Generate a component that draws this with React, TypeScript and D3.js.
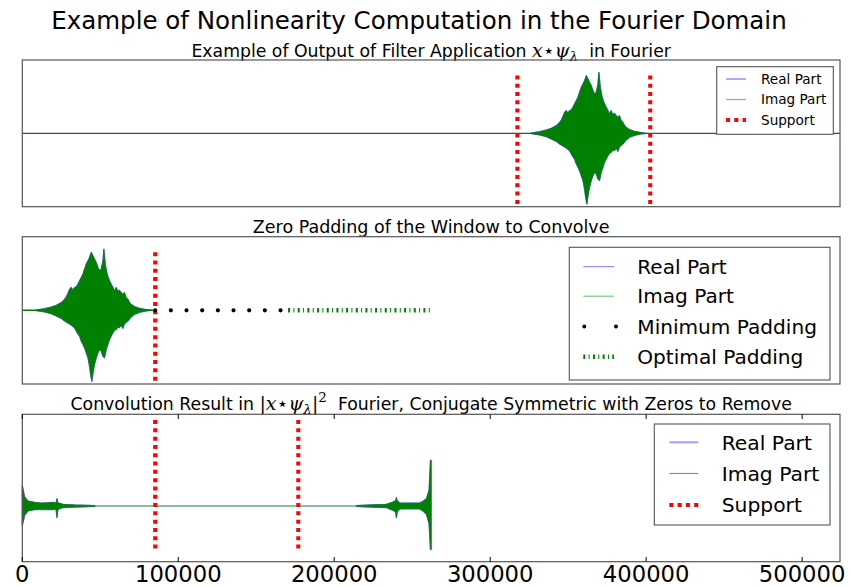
import React from 'react';
import * as d3 from 'd3';

const W = 851;
const H = 586;
const X_MAX = 524288;
const X_TICKS = [0, 100000, 200000, 300000, 400000, 500000];
const SUPPORT = [317400, 402600];
const WINDOW_LEN = 85200;
const HALF_LEN = 262144;
const CONV_SUPPORT = [85200, 176944];

// Envelope of the filtered window, offsets inside the window
const ENV_UP_X = [9000, 14300, 18600, 21800, 25000, 27100, 28200, 29200, 30300, 31400, 32400, 33500, 34600, 35600, 36700, 37800, 38900, 39900, 41000, 42100, 43100, 44200, 45300, 46300, 47400, 48500, 49500, 50600, 51700, 52300, 53200, 54400, 55500, 57000, 58100, 59100, 60200, 61300, 62300, 63400, 64500, 65500, 66600, 67700, 68800, 69800, 72000, 75200, 79400, 82600];
const ENV_UP = [0.005, 0.023, 0.046, 0.069, 0.105, 0.15, 0.182, 0.228, 0.287, 0.31, 0.273, 0.31, 0.319, 0.355, 0.401, 0.446, 0.492, 0.56, 0.628, 0.674, 0.719, 0.787, 0.742, 0.696, 0.651, 0.583, 0.537, 0.56, 0.674, 0.833, 0.628, 0.492, 0.423, 0.355, 0.31, 0.264, 0.31, 0.255, 0.273, 0.241, 0.219, 0.241, 0.173, 0.15, 0.105, 0.082, 0.05, 0.028, 0.01, 0];
const ENV_LO_X = [9000, 14300, 18600, 21800, 25000, 27100, 29200, 31400, 33500, 34600, 35600, 36700, 37800, 38900, 39900, 41000, 42100, 43100, 43800, 44600, 45500, 46300, 47400, 48500, 49500, 50600, 51700, 52700, 53800, 54900, 55900, 57000, 58100, 59100, 60200, 61300, 62300, 63400, 64500, 65500, 67700, 69800, 72000, 75200, 79400, 82600];
const ENV_LO = [-0.004, -0.022, -0.045, -0.077, -0.109, -0.145, -0.172, -0.2, -0.236, -0.281, -0.318, -0.35, -0.418, -0.463, -0.509, -0.577, -0.645, -0.759, -0.873, -0.964, -0.827, -0.736, -0.645, -0.577, -0.532, -0.554, -0.623, -0.645, -0.532, -0.463, -0.395, -0.35, -0.304, -0.272, -0.259, -0.227, -0.236, -0.2, -0.245, -0.181, -0.145, -0.09, -0.054, -0.027, -0.009, 0];

// Convolution result envelope, left and right dense parts
const CONV_L_X = [0, 300, 1500, 3650, 7900, 12200, 16500, 19700, 21200, 21700, 22200, 22700, 23300, 26100, 33600, 46400];
const CONV_L_UP = [0.282, 0.25, 0.122, 0.068, 0.05, 0.041, 0.045, 0.05, 0.041, 0.05, 0.1, 0.05, 0.041, 0.023, 0.014, 0.007];
const CONV_L_LO = [-0.263, -0.24, -0.127, -0.068, -0.049, -0.045, -0.049, -0.049, -0.041, -0.06, -0.158, -0.06, -0.041, -0.022, -0.014, -0.007];
const CONV_R_X = [214200, 222800, 233450, 237700, 239300, 239860, 240400, 242000, 248400, 254800, 256900, 259100, 260800, 261700, 262144];
const CONV_R_UP = [0.007, 0.014, 0.023, 0.055, 0.07, 0.114, 0.07, 0.041, 0.041, 0.041, 0.064, 0.1, 0.214, 0.622, 0.622];
const CONV_R_LO = [-0.007, -0.014, -0.022, -0.059, -0.08, -0.158, -0.08, -0.04, -0.036, -0.04, -0.068, -0.113, -0.24, -0.593, -0.593];

const SUPPORT_SPAN_12 = [-0.975, 0.79];
const SUPPORT_SPAN_3 = [-0.589, 1.17];

const TITLE = 'Example of Nonlinearity Computation in the Fourier Domain';
const LEGEND_1 = ['Real Part', 'Imag Part', 'Support'];
const LEGEND_2 = ['Real Part', 'Imag Part', 'Minimum Padding', 'Optimal Padding'];
const LEGEND_3 = ['Real Part', 'Imag Part', 'Support'];

const FONT = 'DejaVu Sans, sans-serif';
const SERIF = 'DejaVu Serif, serif';
const GREEN = '#008000';
const BLUE = '#0000ff';

const x = d3.scaleLinear().domain([0, X_MAX]).range([22.3, 840]);
const y1 = d3.scaleLinear().domain([-1, 1]).range([206.7, 60]);
const y2 = d3.scaleLinear().domain([-1, 1]).range([384, 236.7]);
const y3 = d3.scaleLinear().domain([-0.758, 1.248]).range([561.7, 414.3]);

function envPath(
  ux: number[], uy: number[], lx: number[], ly: number[],
  off: number, ys: d3.ScaleLinear<number, number>
) {
  const pts: [number, number][] = [];
  ux.forEach((v, i) => pts.push([x(v + off), ys(uy[i])]));
  for (let i = lx.length - 1; i >= 0; i--) pts.push([x(lx[i] + off), ys(ly[i])]);
  const line = d3.line();
  return line(pts) + 'Z';
}

function Signal({ ux, uy, lx, ly, off, ys }: any) {
  const d = envPath(ux, uy, lx, ly, off, ys);
  return (
    <g>
      <path d={d} fill={BLUE} stroke={BLUE} strokeWidth={1.2} strokeLinejoin="round" opacity={0.6} />
      <path d={d} fill={GREEN} stroke={GREEN} strokeWidth={0.5} />
    </g>
  );
}

function Frame({ top, bottom }: { top: number; bottom: number }) {
  return (
    <rect x={x(0)} y={top} width={x(X_MAX) - x(0)} height={bottom - top} fill="none" stroke="#555" strokeWidth={1.2} />
  );
}

function Legend({ box, items, fs, sx, tx, rows }: any) {
  return (
    <g>
      <rect x={box[0]} y={box[1]} width={box[2] - box[0]} height={box[3] - box[1]} fill="#fff" stroke="#555" strokeWidth={1.1} />
      {items.map((it: any, i: number) => (
        <g key={i}>
          {it.kind === 'line' && (
            <line x1={sx[0]} x2={sx[1]} y1={rows[i]} y2={rows[i]} stroke={it.color} strokeWidth={it.w} />
          )}
          {it.kind === 'support' && (
            <line x1={sx[0]} x2={sx[1]} y1={rows[i]} y2={rows[i]} stroke="#ff0000" strokeWidth={4} strokeDasharray="4 4.3" />
          )}
          {it.kind === 'dots' && (
            <line x1={sx[0] + 1} x2={sx[1] + 2} y1={rows[i]} y2={rows[i]} stroke="#000" strokeWidth={4} strokeLinecap="round" strokeDasharray={`0 ${sx[1] - sx[0] + 1}`} />
          )}
          {it.kind === 'dashdot' && (
            <line x1={sx[0]} x2={sx[1]} y1={rows[i]} y2={rows[i]} stroke={GREEN} strokeWidth={4.5} strokeDasharray="2 3.33 1 3.34" />
          )}
          <text x={tx} y={rows[i] + fs * 0.36} fontSize={fs} fontFamily={FONT} fill="#000">{it.label}</text>
        </g>
      ))}
    </g>
  );
}

export default function App() {
  const midX = (x(0) + x(X_MAX)) / 2;
  const mathStyle = { fontFamily: SERIF, fontStyle: 'italic' } as const;
  return (
    <svg width={W} height={H} style={{ position: 'absolute', left: 0, top: 0, background: '#fff' }}>
      <rect x={0} y={0} width={W} height={H} fill="#fff" />
      <text x={419} y={29} textAnchor="middle" fontSize={24.5} fontFamily={FONT} fill="#000">{TITLE}</text>

      {/* Panel 1 */}
      <text x={midX} y={56.5} textAnchor="middle" fontSize={17.3} fontFamily={FONT} fill="#000" style={{ whiteSpace: 'pre' }}>
        {'Example of Output of Filter Application '}
        <tspan style={mathStyle} fontSize={19}>x</tspan>
        <tspan fontSize={19}>{'\u22C6'}</tspan>
        <tspan style={mathStyle} fontSize={19}>ψ</tspan>
        <tspan style={mathStyle} fontSize={13.5} dy={4}>λ</tspan>
        <tspan dy={-4}>{'  in Fourier'}</tspan>
      </text>
      <line x1={x(0)} x2={x(X_MAX)} y1={y1(0)} y2={y1(0)} stroke="#1f5f3f" strokeWidth={1.3} />
      <Signal ux={ENV_UP_X} uy={ENV_UP} lx={ENV_LO_X} ly={ENV_LO} off={SUPPORT[0]} ys={y1} />
      {SUPPORT.map((s, i) => (
        <line key={i} x1={x(s)} x2={x(s)} y1={y1(SUPPORT_SPAN_12[1])} y2={y1(SUPPORT_SPAN_12[0])} stroke="#ff0000" strokeWidth={4} strokeDasharray="4 4.3" />
      ))}
      <Frame top={60} bottom={206.7} />
      <Legend
        box={[716.7, 66.7, 833.3, 134.3]}
        fs={13.6}
        sx={[726, 746]}
        tx={761}
        rows={[79, 99.5, 120]}
        items={[
          { kind: 'line', label: LEGEND_1[0], color: '#5a5aff', w: 1 },
          { kind: 'line', label: LEGEND_1[1], color: '#7cc07c', w: 1.2 },
          { kind: 'support', label: LEGEND_1[2] },
        ]}
      />

      {/* Panel 2 */}
      <text x={midX} y={233.3} textAnchor="middle" fontSize={17.5} fontFamily={FONT} fill="#000">Zero Padding of the Window to Convolve</text>
      <line x1={x(0)} x2={x(WINDOW_LEN)} y1={y2(0)} y2={y2(0)} stroke={GREEN} strokeWidth={1.5} />
      <Signal ux={ENV_UP_X} uy={ENV_UP} lx={ENV_LO_X} ly={ENV_LO} off={0} ys={y2} />
      <line x1={x(WINDOW_LEN)} x2={x(WINDOW_LEN)} y1={y2(SUPPORT_SPAN_12[1])} y2={y2(SUPPORT_SPAN_12[0])} stroke="#ff0000" strokeWidth={4} strokeDasharray="4 4.3" />
      <line x1={x(WINDOW_LEN)} x2={x(2 * WINDOW_LEN)} y1={y2(0)} y2={y2(0)} stroke="#000" strokeWidth={4.2} strokeLinecap="round" strokeDasharray="0 15.67" />
      <line x1={x(2 * WINDOW_LEN)} x2={x(HALF_LEN)} y1={y2(0)} y2={y2(0)} stroke={GREEN} strokeWidth={4.5} strokeDasharray="2 3.33 1 3.34" />
      <Frame top={236.7} bottom={384} />
      <Legend
        box={[569.3, 247.3, 830, 380]}
        fs={20.1}
        sx={[583.3, 614]}
        tx={637.3}
        rows={[266.7, 296.2, 326.4, 356.7]}
        items={[
          { kind: 'line', label: LEGEND_2[0], color: '#7878f0', w: 1 },
          { kind: 'line', label: LEGEND_2[1], color: '#78c878', w: 1.2 },
          { kind: 'dots', label: LEGEND_2[2] },
          { kind: 'dashdot', label: LEGEND_2[3] },
        ]}
      />

      {/* Panel 3 */}
      <text x={midX} y={410} textAnchor="middle" fontSize={17.3} fontFamily={FONT} fill="#000" style={{ whiteSpace: 'pre' }}>
        {'Convolution Result in '}
        <tspan style={{ fontFamily: SERIF }} fontSize={19}>|</tspan>
        <tspan style={mathStyle} fontSize={19}>x</tspan>
        <tspan fontSize={19}>{'\u22C6'}</tspan>
        <tspan style={mathStyle} fontSize={19}>ψ</tspan>
        <tspan style={mathStyle} fontSize={13.5} dy={4}>λ</tspan>
        <tspan style={{ fontFamily: SERIF }} fontSize={19} dy={-4}>|</tspan>
        <tspan style={{ fontFamily: SERIF }} fontSize={13.5} dy={-8}>2</tspan>
        <tspan dy={8}>{'  Fourier, Conjugate Symmetric with Zeros to Remove'}</tspan>
      </text>
      <line x1={x(CONV_L_X[CONV_L_X.length - 1])} x2={x(CONV_R_X[0])} y1={y3(0)} y2={y3(0)} stroke="#8cbf9e" strokeWidth={1.8} />
      <Signal ux={CONV_L_X} uy={CONV_L_UP} lx={CONV_L_X} ly={CONV_L_LO} off={0} ys={y3} />
      <Signal ux={CONV_R_X} uy={CONV_R_UP} lx={CONV_R_X} ly={CONV_R_LO} off={0} ys={y3} />
      {CONV_SUPPORT.map((s, i) => (
        <line key={i} x1={x(s)} x2={x(s)} y1={y3(SUPPORT_SPAN_3[1])} y2={y3(SUPPORT_SPAN_3[0])} stroke="#ff0000" strokeWidth={4} strokeDasharray="4 4.3" />
      ))}
      <Frame top={414.3} bottom={561.7} />
      {X_TICKS.map((t) => (
        <g key={t}>
          <line x1={x(t)} x2={x(t)} y1={414.3} y2={419} stroke="#000" strokeWidth={1} />
          <line x1={x(t)} x2={x(t)} y1={561.7} y2={557} stroke="#000" strokeWidth={1} />
          <text x={x(t)} y={582} textAnchor="middle" fontSize={22.7} fontFamily={FONT} fill="#000">{t}</text>
        </g>
      ))}
      <Legend
        box={[654.3, 424, 830, 525]}
        fs={20.3}
        sx={[669.3, 698.3]}
        tx={721.7}
        rows={[442.3, 473.5, 505]}
        items={[
          { kind: 'line', label: LEGEND_3[0], color: '#a0a0ff', w: 2 },
          { kind: 'line', label: LEGEND_3[1], color: '#60aa60', w: 1.2 },
          { kind: 'support', label: LEGEND_3[2] },
        ]}
      />
    </svg>
  );
}
